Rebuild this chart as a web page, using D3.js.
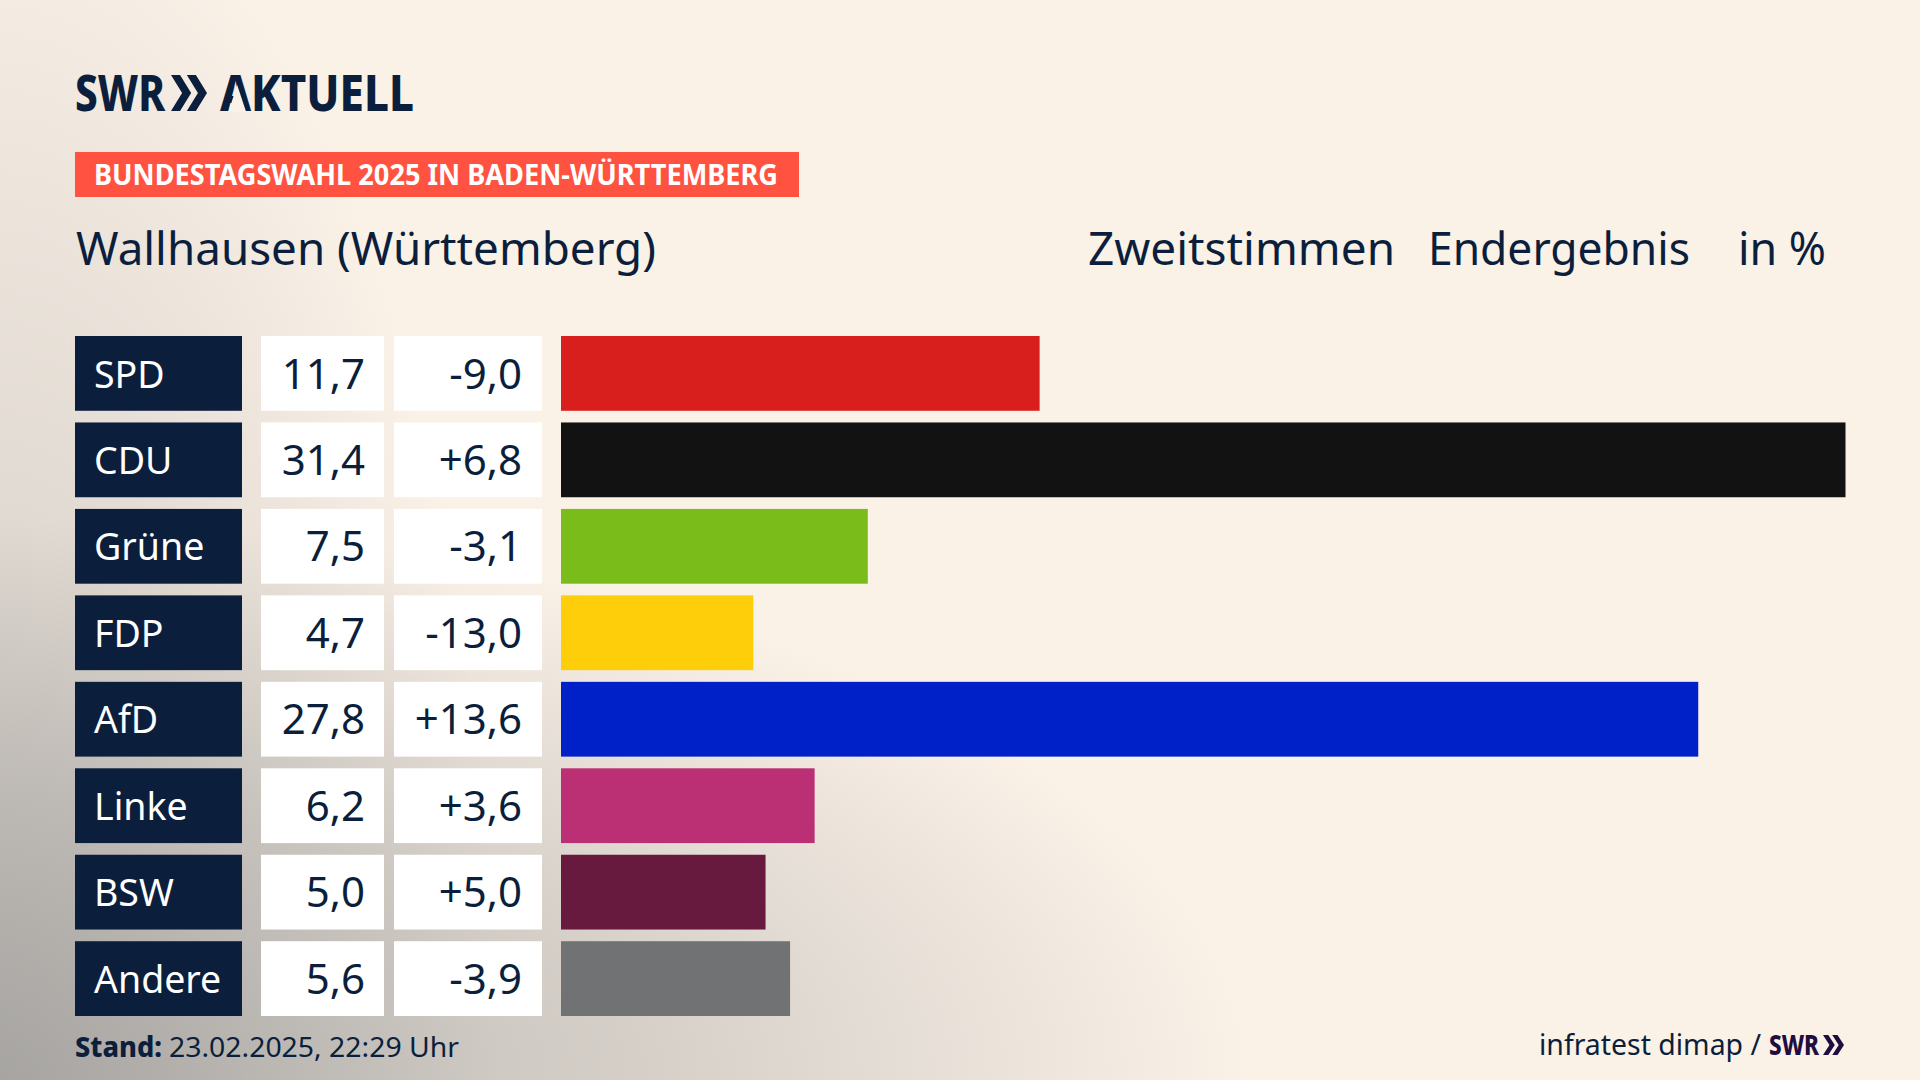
<!doctype html>
<html>
<head>
<meta charset="utf-8">
<title>Wallhausen (Württemberg)</title>
<style>
  html, body { margin: 0; padding: 0; background: #FAF1E7; }
  svg { display: block; }
  text { font-family: "Noto Sans", sans-serif; fill: #0B1F3D; }
</style>
<script src="https://cdnjs.cloudflare.com/ajax/libs/d3/7.8.5/d3.min.js"></script>
</head>
<body>
<div id="chart"></div>
<script>
// data
const parties = ["SPD", "CDU", "Grüne", "FDP", "AfD", "Linke", "BSW", "Andere"];
const shares = [11.7, 31.4, 7.5, 4.7, 27.8, 6.2, 5.0, 5.6];
const changes = [-9.0, 6.8, -3.1, -13.0, 13.6, 3.6, 5.0, -3.9];

const partyColors = ["#D81F1E", "#121212", "#7ABD1A", "#FFCE0A", "#0020C8", "#BB3075", "#671A3E", "#717274"];
const navy = "#0B1F3D";

const svg = d3.select("#chart").append("svg")
  .attr("width", 1920)
  .attr("height", 1080);

// background: cream plus two grey glows out of the bottom left corner
const defs = svg.append("defs");
function glow(id, rx, ry, stops) {
  const g = defs.append("radialGradient")
    .attr("id", id)
    .attr("gradientUnits", "userSpaceOnUse")
    .attr("cx", 0).attr("cy", 0).attr("r", 1)
    .attr("gradientTransform", `translate(0,1080) scale(${rx},${ry})`);
  stops.forEach(s => {
    g.append("stop").attr("offset", s[0]).attr("stop-color", "#888888").attr("stop-opacity", s[1]);
  });
  svg.append("rect").attr("width", 1920).attr("height", 1080).attr("fill", `url(#${id})`);
}
svg.append("rect").attr("width", 1920).attr("height", 1080).attr("fill", "#FAF1E7");
glow("glowBottom", 1250, 560, [[0, 0.55], [0.5, 0.33], [1, 0]]);
glow("glowLeft", 500, 1250, [[0, 0.4], [1, 0]]);

// scales
const x = d3.scaleLinear().domain([0, 31.4]).range([561, 1845.5]);
const y = d3.scaleBand().domain(parties).range([336, 1016]).paddingInner(0.135);
const color = d3.scaleOrdinal().domain(parties).range(partyColors);
const de = d3.formatLocale({ decimal: ",", thousands: ".", grouping: [3], currency: ["", "€"], minus: "-" });
const fmtShare = de.format(".1f");
const fmtChange = de.format("+.1f");

// text helper, width is taken from the reference
function label(txt, xPos, yPos, size, opts) {
  opts = opts || {};
  const t = svg.append("text")
    .attr("x", xPos).attr("y", yPos)
    .attr("font-size", size)
    .attr("font-weight", opts.weight || 400)
    .style("fill", opts.fill || navy)
    .text(txt);
  if (opts.width) t.attr("textLength", opts.width).attr("lengthAdjust", "spacingAndGlyphs");
  return t;
}

// two arrows of the logo
function chevrons(x0, y0, w, h, fill) {
  const cw = w * 0.56;
  [0, w - cw].forEach(dx => {
    const a = x0 + dx;
    svg.append("path")
      .attr("d", d3.line()([[a, y0], [a + cw * 0.45, y0], [a + cw, y0 + h / 2], [a + cw * 0.45, y0 + h], [a, y0 + h], [a + cw * 0.55, y0 + h / 2]]) + "Z")
      .attr("fill", fill);
  });
}

// header
label("SWR", 75, 110.5, 49, { weight: 800, width: 90 });
chevrons(171, 75, 36, 36, navy);
label("AKTUELL", 220, 110.5, 49, { weight: 800, width: 194 });
// logo A has no crossbar
svg.append("path")
  .attr("d", d3.line()([[228.5, 111.5], [246, 111.5], [237.2, 85]]) + "Z")
  .attr("fill", "#FAF1E7");

svg.append("rect").attr("x", 75).attr("y", 152).attr("width", 724).attr("height", 45).attr("fill", "#FF5240");
label("BUNDESTAGSWAHL 2025 IN BADEN-WÜRTTEMBERG", 94, 185, 29, { weight: 700, fill: "#FFFFFF", width: 684 });

label("Wallhausen (Württemberg)", 76, 265, 45, { width: 580 });
label("Zweitstimmen", 1088, 265, 45, { width: 307 });
label("Endergebnis", 1428, 265, 45, { width: 262 });
label("in %", 1738, 265, 45, { width: 88 });

// rows
const rows = svg.append("g").selectAll("g")
  .data(parties)
  .join("g")
  .attr("transform", d => `translate(0,${y(d)})`);

rows.append("rect").attr("x", 75).attr("width", 167).attr("height", y.bandwidth()).attr("fill", navy);
rows.append("rect").attr("x", 261).attr("width", 123).attr("height", y.bandwidth()).attr("fill", "#FFFFFF");
rows.append("rect").attr("x", 394).attr("width", 148).attr("height", y.bandwidth()).attr("fill", "#FFFFFF");

rows.append("rect")
  .attr("x", x(0))
  .attr("width", d => x(shares[parties.indexOf(d)]) - x(0))
  .attr("height", y.bandwidth())
  .attr("fill", d => color(d));

rows.append("text")
  .attr("x", 94).attr("y", 51.5)
  .attr("font-size", 37.5)
  .style("fill", "#FFFFFF")
  .text(d => d);

rows.append("text")
  .attr("x", 365).attr("y", 52.5)
  .attr("font-size", 42)
  .attr("text-anchor", "end")
  .text(d => fmtShare(shares[parties.indexOf(d)]));

rows.append("text")
  .attr("x", 522).attr("y", 52.5)
  .attr("font-size", 42)
  .attr("text-anchor", "end")
  .text(d => fmtChange(changes[parties.indexOf(d)]));

// footer
label("Stand:", 75, 1057, 28, { weight: 800, width: 87 });
label("23.02.2025, 22:29 Uhr", 169, 1057, 28, { width: 290 });
label("infratest dimap /", 1539, 1055, 29, { width: 222 });
label("SWR", 1769, 1055, 28, { weight: 800, fill: "#1F0E3F", width: 50 });
chevrons(1823, 1035, 21, 20, "#1F0E3F");
</script>
</body>
</html>
